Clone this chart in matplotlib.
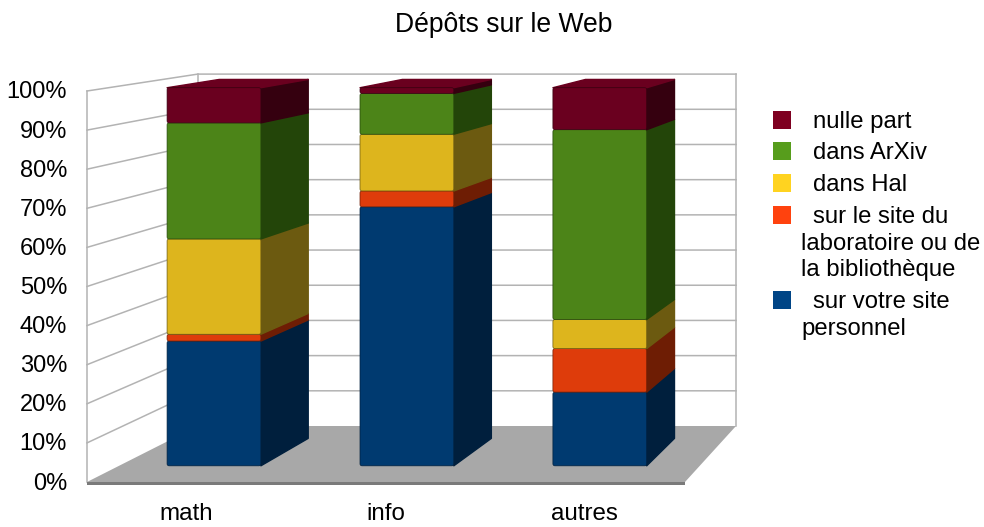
import numpy as np
import matplotlib
matplotlib.use("Agg")
import matplotlib.pyplot as plt
from matplotlib.patches import FancyBboxPatch, Polygon, Rectangle

plt.rcParams["font.family"] = ["Liberation Sans", "DejaVu Sans"]

# ======================================
# Data (percent)
# ======================================

categories = ["math", "info", "autres"]
tick_values = [0, 10, 20, 30, 40, 50, 60, 70, 80, 90, 100]

personnel = [33, 68.5, 19.5]
labo = [1.8, 4.2, 11.5]
hal = [25.2, 15, 7.7]
arxiv = [30.7, 10.8, 50.2]
nulle = [9.3, 1.5, 11.1]

series = [personnel, labo, hal, arxiv, nulle]

legend_labels = ["nulle part", "dans ArXiv", "dans Hal",
                 "sur le site du\nlaboratoire ou de\nla bibliothèque",
                 "sur votre site\npersonnel"]

# bottom to top
front_colors = ["#003A70", "#DE3C0B", "#DDB51D", "#4C8418", "#6A001F"]
side_colors = ["#001F3D", "#6E1D04", "#6C5A10", "#234509", "#35000F"]
legend_colors = ["#7E0021", "#579D1C", "#FFD320", "#FF420E", "#004586"]

# ======================================
# Perspective of the fake 3D box
# ======================================

VX, VY = 1195, -78
LEFT, RIGHT = 87, 685
Y0, Y100 = 482, 91
S_WALL = 0.90
S_BAR_FRONT = 0.967
S_BAR_BACK = 0.918
BAR_Y_SHIFT = 2.3
BAR_W = 97


def py(pct):
    return Y0 - (Y0 - Y100) * np.asarray(pct) / 100


def project(x, pct, s):
    return VX + s * (x - VX), VY + s * (py(pct) - VY)


fig = plt.figure(figsize=(9.84, 5.27), dpi=100)
ax = fig.add_axes([0, 0, 1, 1])
ax.set_xlim(0, 984)
ax.set_ylim(527, 0)
ax.axis("off")

grid = "#B3B3B3"

# walls
for v in tick_values:
    a = project(LEFT, v, 1)
    b = project(LEFT, v, S_WALL)
    c = project(RIGHT, v, S_WALL)
    if v > 0:
        ax.plot([a[0], b[0], c[0]], [a[1], b[1], c[1]], color=grid, lw=1.1, zorder=1)

for x, s in [(LEFT, 1), (LEFT, S_WALL), (RIGHT, S_WALL)]:
    a = project(x, 0, s)
    b = project(x, 100, s)
    ax.plot([a[0], b[0]], [a[1], b[1]], color=grid, lw=1.1, zorder=1)

# floor
floor = [project(LEFT, 0, 1), project(RIGHT, 0, 1),
         project(RIGHT, 0, S_WALL), project(LEFT, 0, S_WALL)]
ax.add_patch(Polygon(floor, closed=True, facecolor="#A8A8A8", edgecolor="none", zorder=2))
ax.add_patch(Rectangle((LEFT, Y0 - 0.5), RIGHT - LEFT, 3.5, facecolor="#7A7A7A",
                       edgecolor="none", zorder=2))

# ======================================
# Stacked bars
# ======================================

values = np.array(series)
tops = np.cumsum(values, axis=0)
bottoms = tops - values

for i in range(len(categories)):
    x0 = 132 + 199.5 * i
    x1 = x0 + BAR_W
    for j in range(len(series)):
        lo, hi = bottoms[j, i], tops[j, i]
        fl = project(x0, lo, S_BAR_FRONT)
        fr = project(x1, hi, S_BAR_FRONT)
        fl_y = fl[1] + BAR_Y_SHIFT
        fr_y = fr[1] + BAR_Y_SHIFT
        bl = project(x1, lo, S_BAR_BACK)
        bh = project(x1, hi, S_BAR_BACK)
        side = [(fr[0], fl_y), (bl[0], bl[1] + BAR_Y_SHIFT),
                (bh[0], bh[1] + BAR_Y_SHIFT), (fr[0], fr_y)]
        z = 3 + j
        ax.add_patch(Polygon(side, closed=True, facecolor=side_colors[j],
                             edgecolor=side_colors[j], lw=1, joinstyle="round", zorder=z))
        if j == len(series) - 1:
            bk = project(x0, hi, S_BAR_BACK)
            top = [(fl[0], fr_y), (fr[0], fr_y),
                   (bh[0], bh[1] + BAR_Y_SHIFT), (bk[0], bk[1] + BAR_Y_SHIFT)]
            ax.add_patch(Polygon(top, closed=True, facecolor=front_colors[j],
                                 edgecolor=front_colors[j], lw=1, joinstyle="round", zorder=z))
        r = 2
        ax.add_patch(FancyBboxPatch((fl[0] + r, fr_y + r), fr[0] - fl[0] - 2 * r, fl_y - fr_y - 2 * r,
                                    boxstyle="round,pad=%d,rounding_size=%d" % (r, r),
                                    facecolor=front_colors[j], edgecolor=side_colors[j],
                                    lw=0.5, zorder=z + 0.5))

# ======================================
# Texts
# ======================================

for v in tick_values:
    ax.text(67, py(v) + 1.5, "%d%%" % v, ha="right", va="center", fontsize=17, color="black")

for i, name in enumerate(categories):
    ax.text(186.5 + 199 * i, 514, name, ha="center", va="center", fontsize=17.4, color="black")

ax.text(503.5, 25, "Dépôts sur le Web", ha="center", va="center", fontsize=19.1, color="black")

# legend
legend_tops = [111, 142, 174, 206, 291]
line_h = 26.5
for label, color, y in zip(legend_labels, legend_colors, legend_tops):
    ax.add_patch(Rectangle((773, y), 18, 18, facecolor=color, edgecolor="none", zorder=5))
    for k, line in enumerate(label.split("\n")):
        ax.text(813 if k == 0 else 801, y + 11 + k * line_h, line, ha="left", va="center",
                fontsize=17.2, color="black")

fig.savefig("out.png", dpi=100)
